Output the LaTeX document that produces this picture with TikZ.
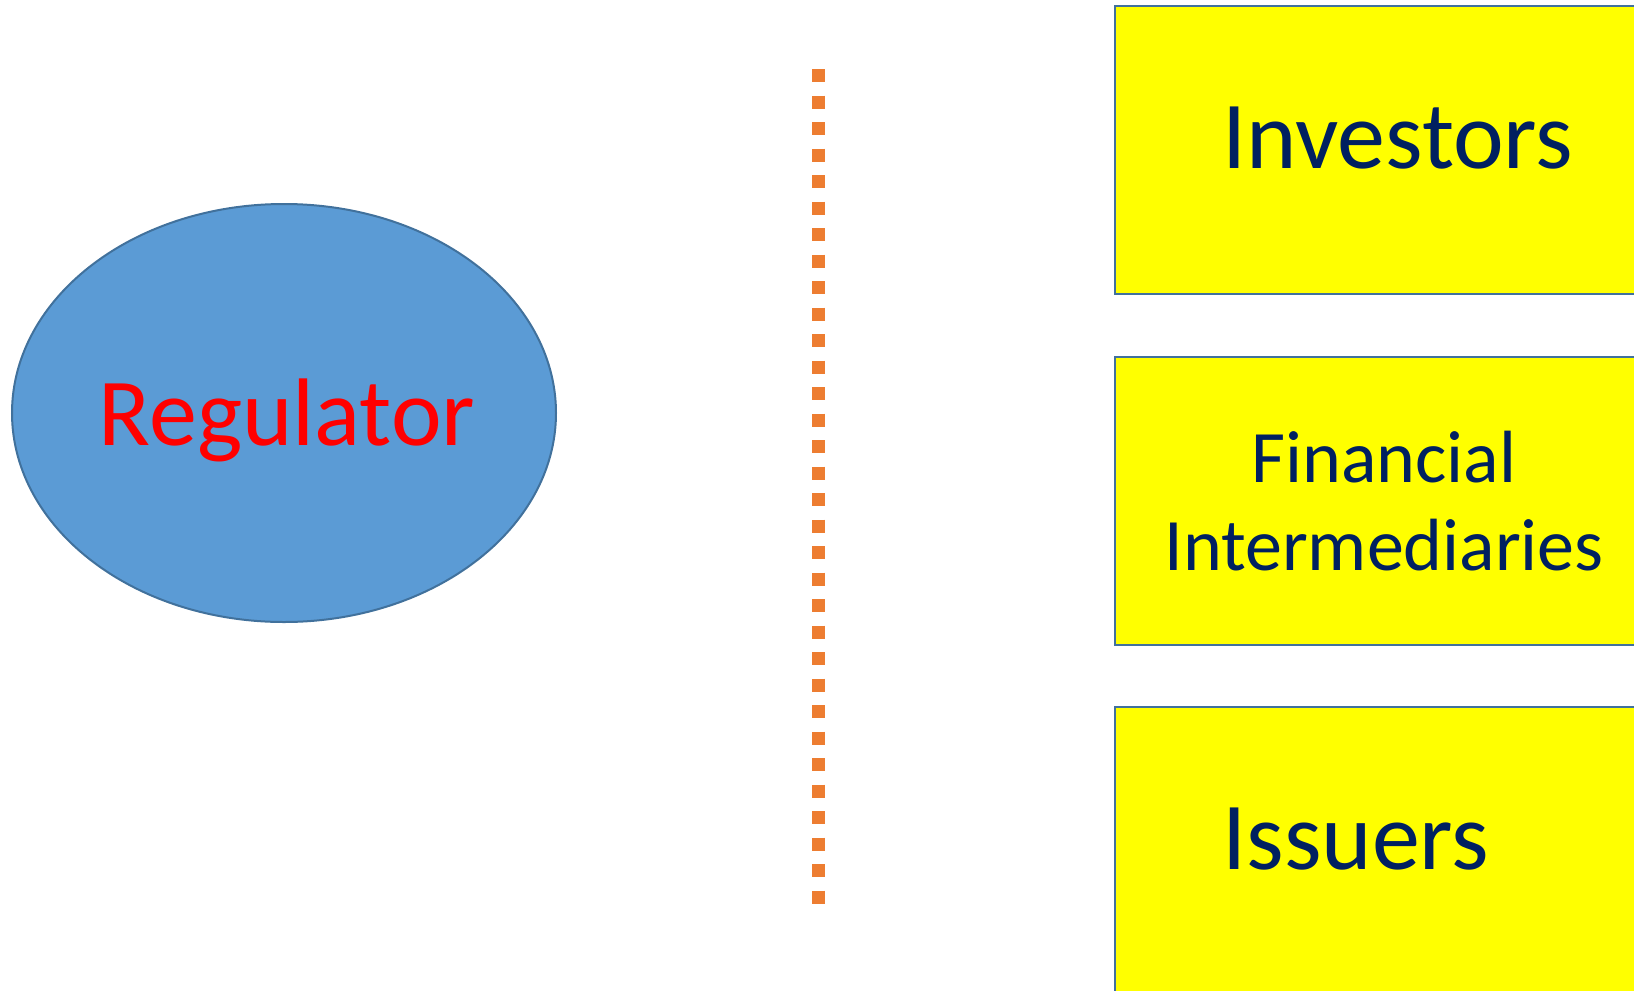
\documentclass[tikz,border=0pt]{standalone}
\usepackage{fontspec}
\setmainfont{Carlito}
\usetikzlibrary{shapes.geometric}
\definecolor{regfill}{HTML}{5B9BD5}
\definecolor{edgeblue}{HTML}{41719C}
\definecolor{navytext}{HTML}{002060}
\definecolor{dotorange}{HTML}{ED7D31}
\definecolor{boxyellow}{HTML}{FFFF00}
\definecolor{labelred}{HTML}{FF0000}

\begin{document}
\begin{tikzpicture}[x=0.5pt, y=-0.5pt, box/.style={rectangle, draw=edgeblue, line width=1pt, fill=boxyellow, minimum width=280pt, minimum height=144pt, inner sep=0pt}, regnode/.style={ellipse, draw=edgeblue, line width=1pt, fill=regfill, minimum width=272pt, minimum height=209pt, inner sep=0pt}, bigtext/.style={font=\fontsize{48}{57}\selectfont, inner sep=0pt}]

  \clip (0,0) rectangle (1634,991);
  \useasboundingbox (0,0) rectangle (1634,991);

  \node[regnode] (regulator) at (284,413) {};
  \node[bigtext, labelred, anchor=base] (reglabel) at (287,445) {Regulator};

  \coordinate (divtop) at (818,69);
  \coordinate (divbot) at (818,904);
  \draw[dotorange, line width=6.5pt, dash pattern=on 6.5pt off 6.75pt] (divtop) -- (divbot);

  \node[box] (investors) at (1395,150) {};
  \node[box] (intermed) at (1395,500.5) {};
  \node[box] (issuers) at (1395,851) {};

  \node[bigtext, navytext, anchor=base west] (invlabel) at (1222,168) {Investors};
  \node[navytext, font=\fontsize{37}{44}\selectfont, align=center, inner sep=0pt] (intlabel) at (1384,501) {Financial\\Intermediaries};
  \node[bigtext, navytext, anchor=base west] (isslabel) at (1222,869) {Issuers};
\end{tikzpicture}
\end{document}
